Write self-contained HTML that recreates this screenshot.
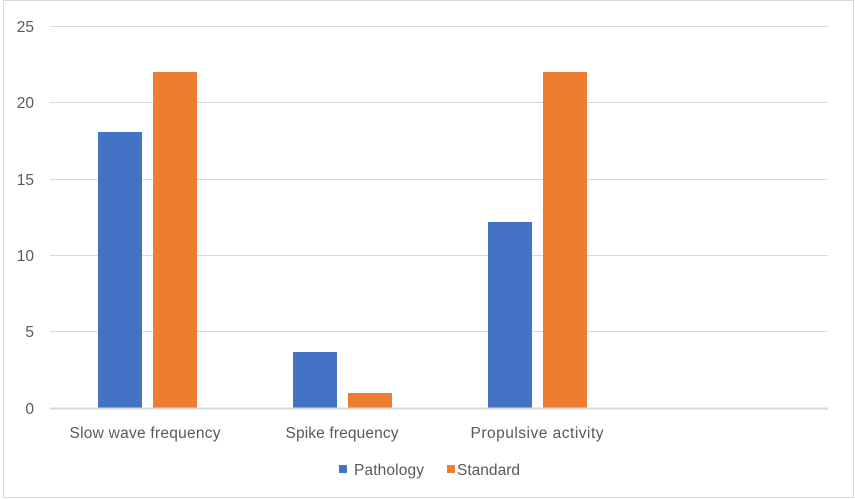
<!DOCTYPE html>
<html><head><style>body{margin:0;background:#fff}svg{display:block}text{font-family:"Liberation Sans",sans-serif;fill:#595959}</style></head><body>
<svg width="855" height="499" viewBox="0 0 855 499">
<rect x="3.5" y="0.5" width="850" height="497" fill="#fff" stroke="#d9d9d9"/>
<g stroke="#d9d9d9" stroke-width="1">
<line x1="50" x2="828" y1="26.5" y2="26.5"/>
<line x1="50" x2="828" y1="102.5" y2="102.5"/>
<line x1="50" x2="828" y1="179.5" y2="179.5"/>
<line x1="50" x2="828" y1="255.5" y2="255.5"/>
<line x1="50" x2="828" y1="331.5" y2="331.5"/>
</g>
<g font-size="15.5" text-anchor="end">
<text x="34" y="32">25</text><text x="34" y="108">20</text><text x="34" y="185">15</text><text x="34" y="261">10</text><text x="34" y="337">5</text><text x="34" y="414">0</text>
</g>
<rect x="98" y="132" width="44" height="276" fill="#4472c4"/>
<rect x="153" y="72" width="44" height="336" fill="#ed7d31"/>
<rect x="293" y="352" width="44" height="56" fill="#4472c4"/>
<rect x="348" y="393" width="44" height="15" fill="#ed7d31"/>
<rect x="488" y="222" width="44" height="186" fill="#4472c4"/>
<rect x="543" y="72" width="44" height="336" fill="#ed7d31"/>
<line x1="50" x2="828" y1="408.5" y2="408.5" stroke="#d9d9d9" stroke-width="2"/>
<g font-size="15.5" text-anchor="middle">
<text x="145" y="438" textLength="151">Slow wave frequency</text>
<text x="342" y="438" textLength="113">Spike frequency</text>
<text x="537" y="438" textLength="133">Propulsive activity</text>
</g>
<rect x="339" y="465" width="8" height="8" fill="#4472c4"/>
<text x="354" y="475" font-size="15.5" textLength="70">Pathology</text>
<rect x="447" y="465" width="8" height="8" fill="#ed7d31"/>
<text x="457" y="475" font-size="15.5" textLength="63">Standard</text>
</svg>
</body></html>
